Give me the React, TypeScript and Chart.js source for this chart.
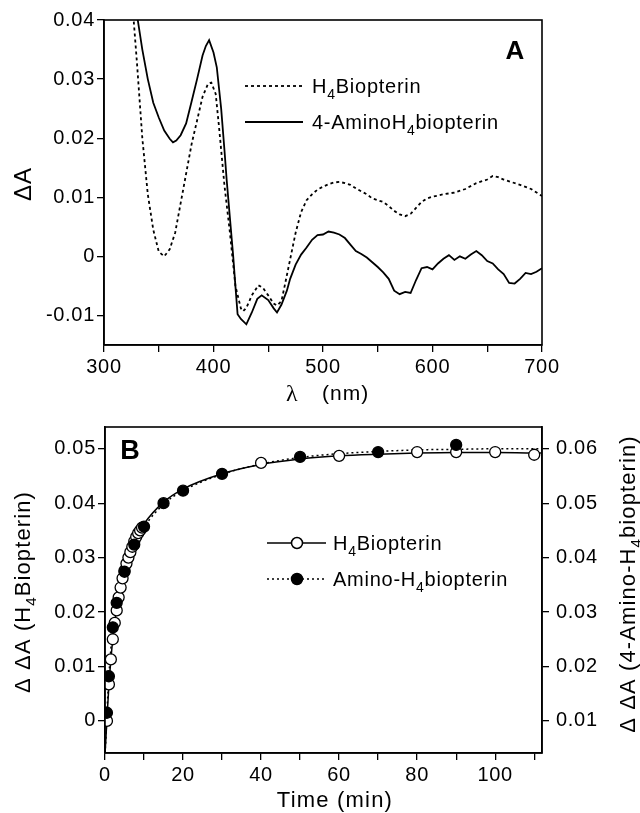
import React, { useEffect, useRef } from "react";
import { Chart, registerables } from "chart.js";

Chart.register(...registerables);

const FONT = '"Liberation Sans", Arial, Helvetica, sans-serif';
const SERIF = '"Liberation Serif", "DejaVu Serif", serif';

// ---------------- Panel A : difference spectra ----------------
const lambdaH4 = [
  320, 325, 330, 335, 340, 345, 350, 355, 360, 365, 370, 375, 380, 385, 390, 395, 398, 402, 405, 410,
  415, 420, 425, 427, 430, 435, 441, 445, 450, 455, 458, 462, 465, 470, 475, 480, 485, 490, 495, 500,
  505, 510, 515, 520, 525, 530, 535, 540, 545, 550, 555, 560, 565, 570, 575, 580, 585, 590, 595, 600,
  610, 620, 630, 640, 650, 655, 660, 665, 670, 680, 690, 700,
];
const deltaAH4 = [
  0.06, 0.045, 0.033, 0.02, 0.0105, 0.0045, 0.0008, 0.0, 0.0012, 0.004, 0.009, 0.014, 0.019, 0.023, 0.027, 0.0292, 0.0294, 0.0275, 0.022, 0.012,
  0.004, -0.005, -0.0088, -0.0093, -0.0087, -0.0066, -0.0049, -0.0053, -0.0066, -0.008, -0.0083, -0.0076, -0.005, -0.0005, 0.004, 0.0075, 0.0095, 0.0105, 0.0113, 0.0118,
  0.0122, 0.0125, 0.0126, 0.0124, 0.0121, 0.0115, 0.011, 0.0105, 0.0098, 0.0095, 0.0092, 0.0085, 0.0077, 0.0071, 0.0068, 0.0072, 0.0082, 0.0092, 0.0098, 0.0101,
  0.0105, 0.0108, 0.0114, 0.0124, 0.013, 0.0136, 0.0134, 0.013, 0.0127, 0.0121, 0.0114, 0.0102,
];

const lambdaAmino = [
  320, 325, 330, 335, 340, 345, 350, 355, 360, 363, 366, 370, 375, 380, 385, 390, 393, 396, 400, 403,
  407, 410, 412, 415, 418, 420, 422, 425, 430, 435, 440, 444, 450, 455, 458, 462, 467, 470, 475, 480,
  485, 490, 495, 500, 505, 510, 515, 520, 525, 530, 535, 540, 545, 550, 555, 560, 565, 570, 575, 580,
  585, 590, 595, 600, 605, 610, 615, 620, 625, 630, 635, 640, 645, 650, 655, 660, 665, 670, 675, 680,
  685, 690, 695, 700,
];
const deltaAAmino = [
  0.06, 0.05, 0.041, 0.035, 0.03, 0.026, 0.0235, 0.0213, 0.0199, 0.0193, 0.0196, 0.0205, 0.0225, 0.0262, 0.03, 0.034, 0.0356, 0.0366, 0.0345, 0.032,
  0.025, 0.018, 0.013, 0.0065, 0.0, -0.005, -0.0098, -0.0106, -0.0115, -0.0095, -0.0072, -0.0066, -0.0074, -0.0088, -0.0095, -0.0082, -0.0058, -0.0038, -0.0014, 0.0003,
  0.0015, 0.0028, 0.0036, 0.0037, 0.0042, 0.004, 0.0037, 0.0031, 0.002, 0.0009, 0.0004, -0.0002, -0.001, -0.0018, -0.0027, -0.0038, -0.0058, -0.0064, -0.006, -0.0062,
  -0.004, -0.002, -0.0018, -0.0022, -0.0012, -0.0004, 0.0002, -0.0006, 0.0, -0.0004, 0.0003, 0.0009, 0.0002, -0.0008, -0.0012, -0.0022, -0.003, -0.0045, -0.0046, -0.0038,
  -0.0028, -0.003, -0.0026, -0.002,
];

const xTicksA = [300, 350, 400, 450, 500, 550, 600, 650, 700];
const xTickLabelsA = ["300", "", "400", "", "500", "", "600", "", "700"];
const yTicksA = [-0.01, 0, 0.01, 0.02, 0.03, 0.04];
const yTickLabelsA = ["-0.01", "0", "0.01", "0.02", "0.03", "0.04"];

// ---------------- Panel B : time course ----------------
const timeH4 = [0.5, 1, 1.5, 2, 2.5, 3, 3.5, 4, 4.5, 5, 5.5, 6, 6.5, 7, 7.5, 8, 8.5, 9, 9.5, 40, 60, 80, 90, 100, 110];
const ddaH4 = [
  0.0, 0.0067, 0.0113, 0.015, 0.018, 0.0203, 0.0227, 0.0245, 0.0262, 0.0276, 0.0289, 0.03, 0.031, 0.032, 0.033, 0.0338, 0.0345, 0.035, 0.0355,
  0.0474, 0.0487, 0.0494, 0.0494, 0.0494, 0.0489,
];
const timeAmino = [0.5, 1, 2, 3, 5, 7.5, 10, 15, 20, 30, 50, 70, 90];
const ddaAmino = [0.0115, 0.0182, 0.0272, 0.0317, 0.0374, 0.0424, 0.0457, 0.05, 0.0523, 0.0554, 0.0585, 0.0594, 0.0607];

const fitTimeH4 = [0, 0.25, 0.5, 1, 1.5, 2, 2.5, 3, 4, 5, 6, 7, 8, 10, 15, 20, 30, 40, 50, 60, 70, 80, 90, 100, 112];
const fitH4 = [
  -0.006, -0.003, 0.0005, 0.0065, 0.0112, 0.015, 0.018, 0.0205, 0.0245, 0.0276, 0.03, 0.032, 0.0337, 0.0362, 0.0402, 0.0426, 0.0454, 0.0471, 0.0481,
  0.0487, 0.049, 0.0492, 0.0493, 0.0493, 0.0492,
];
const fitTimeAmino = [0, 0.25, 0.5, 1, 1.5, 2, 3, 4, 5, 6, 8, 10, 15, 20, 30, 40, 50, 60, 70, 80, 90, 100, 112];
const fitAmino = [
  0.004, 0.007, 0.0115, 0.0182, 0.0232, 0.0268, 0.0318, 0.035, 0.0376, 0.0397, 0.043, 0.0456, 0.0498, 0.0523, 0.0553, 0.0572, 0.0584, 0.0591,
  0.0595, 0.0598, 0.0599, 0.06, 0.06,
];

const xTicksB = [0, 10, 20, 30, 40, 50, 60, 70, 80, 90, 100, 110];
const xTickLabelsB = ["0", "", "20", "", "40", "", "60", "", "80", "", "100", ""];
const yTicksBLeft = [0, 0.01, 0.02, 0.03, 0.04, 0.05];
const yTickLabelsBLeft = ["0", "0.01", "0.02", "0.03", "0.04", "0.05"];
const yTicksBRight = [0.01, 0.02, 0.03, 0.04, 0.05, 0.06];
const yTickLabelsBRight = ["0.01", "0.02", "0.03", "0.04", "0.05", "0.06"];

// ---------------- helpers ----------------
type Seg = { t: string; sub?: boolean };

function drawRich(
  ctx: CanvasRenderingContext2D,
  segs: Seg[],
  x: number,
  y: number,
  size: number,
  align: "left" | "center" = "left",
  spacing = 0.8,
  weight = "normal"
) {
  const subSize = Math.round(size * 0.7);
  (ctx as any).letterSpacing = `${spacing}px`;
  const fontOf = (s: Seg) => `${weight} ${s.sub ? subSize : size}px ${s.t === "λ" ? SERIF : FONT}`;
  let total = 0;
  for (const s of segs) {
    ctx.font = fontOf(s);
    total += ctx.measureText(s.t).width;
  }
  let cx = align === "center" ? x - total / 2 : x;
  ctx.textAlign = "left";
  ctx.textBaseline = "alphabetic";
  ctx.fillStyle = "#000";
  for (const s of segs) {
    ctx.font = fontOf(s);
    ctx.fillText(s.t, cx, s.sub ? y + size * 0.28 : y);
    cx += ctx.measureText(s.t).width;
  }
}

function drawRotated(ctx: CanvasRenderingContext2D, segs: Seg[], cx: number, cy: number, size: number, spacing = 0.8) {
  ctx.save();
  ctx.translate(cx, cy);
  ctx.rotate(-Math.PI / 2);
  drawRich(ctx, segs, 0, size * 0.36, size, "center", spacing);
  ctx.restore();
}

function tickLabel(values: number[], labels: string[]) {
  return (v: any) => {
    const i = values.findIndex((t) => Math.abs(t - Number(v)) < 1e-9);
    return i >= 0 ? labels[i] : "";
  };
}

function setTicks(values: number[]) {
  return (scale: any) => {
    scale.ticks = values.map((value) => ({ value }));
  };
}

const gridOpts = {
  display: true,
  drawOnChartArea: false,
  drawTicks: true,
  tickLength: 7,
  color: "#000",
  lineWidth: 1.3,
};
const borderOpts = { display: true, color: "#000", width: 1.6 };
const tickFont = { family: FONT, size: 20 };

function frame(chart: any) {
  const { ctx, chartArea: a } = chart;
  ctx.save();
  ctx.strokeStyle = "#000";
  ctx.lineWidth = 1.6;
  ctx.strokeRect(a.left, a.top, a.right - a.left, a.bottom - a.top);
  ctx.restore();
}

const spacingPlugin = {
  id: "spacing",
  beforeLayout(chart: any) {
    chart.ctx.letterSpacing = "0.7px";
  },
  beforeDraw(chart: any) {
    chart.ctx.letterSpacing = "0.7px";
  },
};

const panelAPlugin = {
  id: "panelA",
  afterDraw(chart: any) {
    const ctx: CanvasRenderingContext2D = chart.ctx;
    frame(chart);
    ctx.save();
    // panel letter
    (ctx as any).letterSpacing = "0px";
    ctx.fillStyle = "#000";
    ctx.font = `bold 26px ${FONT}`;
    ctx.textAlign = "center";
    ctx.textBaseline = "middle";
    ctx.fillText("A", 515, 52);
    // legend
    ctx.strokeStyle = "#000";
    ctx.lineWidth = 1.8;
    ctx.setLineDash([3, 3]);
    ctx.beginPath();
    ctx.moveTo(245, 86);
    ctx.lineTo(303, 86);
    ctx.stroke();
    ctx.setLineDash([]);
    ctx.beginPath();
    ctx.moveTo(245, 122);
    ctx.lineTo(303, 122);
    ctx.stroke();
    drawRich(ctx, [{ t: "H" }, { t: "4", sub: true }, { t: "Biopterin" }], 312, 93, 20, "left", 0.75);
    drawRich(ctx, [{ t: "4-AminoH" }, { t: "4", sub: true }, { t: "biopterin" }], 312, 129, 20, "left", 0.75);
    // axis titles
    drawRotated(ctx, [{ t: "ΔA" }], 22, 184, 24, 1);
    drawRich(ctx, [{ t: "λ" }], 286, 401, 24, "left", 0);
    drawRich(ctx, [{ t: "(nm)" }], 322, 400, 21, "left", 1);
    ctx.restore();
  },
};

const panelBPlugin = {
  id: "panelB",
  afterDraw(chart: any) {
    const ctx: CanvasRenderingContext2D = chart.ctx;
    frame(chart);
    ctx.save();
    (ctx as any).letterSpacing = "0px";
    ctx.fillStyle = "#000";
    ctx.font = `bold 27px ${FONT}`;
    ctx.textAlign = "center";
    ctx.textBaseline = "middle";
    ctx.fillText("B", 130, 47);
    // legend
    const rows = [
      { y: 138, dash: [] as number[], fill: "#fff", segs: [{ t: "H" }, { t: "4", sub: true }, { t: "Biopterin" }] },
      { y: 174, dash: [2, 3], fill: "#000", segs: [{ t: "Amino-H" }, { t: "4", sub: true }, { t: "biopterin" }] },
    ];
    for (const r of rows) {
      ctx.strokeStyle = "#000";
      ctx.lineWidth = 1.5;
      ctx.setLineDash(r.dash);
      ctx.beginPath();
      ctx.moveTo(267, r.y);
      ctx.lineTo(326, r.y);
      ctx.stroke();
      ctx.setLineDash([]);
      ctx.beginPath();
      ctx.arc(297, r.y, 5.5, 0, Math.PI * 2);
      ctx.fillStyle = r.fill;
      ctx.fill();
      ctx.lineWidth = 1.5;
      ctx.stroke();
      drawRich(ctx, r.segs, 333, r.y + 7, 20, "left", 0.75);
    }
    // axis titles
    drawRotated(ctx, [{ t: "Δ ΔA (H" }, { t: "4", sub: true }, { t: "Biopterin)" }], 22, 187, 22, 1.1);
    drawRotated(ctx, [{ t: "Δ ΔA (4-Amino-H" }, { t: "4", sub: true }, { t: "biopterin)" }], 627, 179, 22, 1.1);
    drawRich(ctx, [{ t: "Time (min)" }], 335, 402, 22, "center", 1.2);
    ctx.restore();
  },
};

function PanelA() {
  const ref = useRef<HTMLCanvasElement>(null);
  useEffect(() => {
    const chart = new Chart(ref.current as HTMLCanvasElement, {
      type: "scatter",
      data: {
        datasets: [
          {
            label: "H4Biopterin",
            data: lambdaH4.map((x, i) => ({ x, y: deltaAH4[i] })),
            showLine: true,
            borderColor: "#000",
            borderWidth: 1.8,
            borderDash: [3, 3],
            pointRadius: 0,
          },
          {
            label: "4-AminoH4biopterin",
            data: lambdaAmino.map((x, i) => ({ x, y: deltaAAmino[i] })),
            showLine: true,
            borderColor: "#000",
            borderWidth: 1.8,
            pointRadius: 0,
          },
        ],
      },
      options: {
        animation: false,
        responsive: false,
        events: [],
        layout: { padding: { left: 0, right: 98, top: 20, bottom: 0 } },
        plugins: { legend: { display: false }, tooltip: { enabled: false } },
        scales: {
          x: {
            type: "linear",
            min: 300,
            max: 700,
            grid: gridOpts,
            border: borderOpts,
            afterBuildTicks: setTicks(xTicksA),
            afterFit: (s: any) => {
              s.height = 60;
            },
            ticks: {
              font: tickFont,
              color: "#000",
              padding: 3,
              maxRotation: 0,
              autoSkip: false,
              callback: tickLabel(xTicksA, xTickLabelsA),
            },
          },
          y: {
            type: "linear",
            min: -0.015,
            max: 0.04,
            grid: gridOpts,
            border: borderOpts,
            afterBuildTicks: setTicks(yTicksA),
            afterFit: (s: any) => {
              s.width = 104;
            },
            ticks: {
              font: tickFont,
              color: "#000",
              padding: 2,
              autoSkip: false,
              callback: tickLabel(yTicksA, yTickLabelsA),
            },
          },
        },
      } as any,
      plugins: [spacingPlugin, panelAPlugin],
    });
    return () => chart.destroy();
  }, []);
  return <canvas ref={ref} width={640} height={405} style={{ display: "block" }} />;
}

function PanelB() {
  const ref = useRef<HTMLCanvasElement>(null);
  useEffect(() => {
    const chart = new Chart(ref.current as HTMLCanvasElement, {
      type: "scatter",
      data: {
        datasets: [
          {
            label: "Amino-H4biopterin",
            data: timeAmino.map((x, i) => ({ x, y: ddaAmino[i] })),
            yAxisID: "y1",
            pointRadius: 5.5,
            pointBackgroundColor: "#000",
            pointBorderColor: "#000",
            pointBorderWidth: 1.3,
          },
          {
            label: "H4Biopterin",
            data: timeH4.map((x, i) => ({ x, y: ddaH4[i] })),
            yAxisID: "y",
            pointRadius: 5.5,
            pointBackgroundColor: "#fff",
            pointBorderColor: "#000",
            pointBorderWidth: 1.3,
          },
          {
            label: "fit H4",
            data: fitTimeH4.map((x, i) => ({ x, y: fitH4[i] })),
            yAxisID: "y",
            showLine: true,
            borderColor: "#000",
            borderWidth: 1.5,
            pointRadius: 0,
            cubicInterpolationMode: "monotone",
          },
          {
            label: "fit Amino",
            data: fitTimeAmino.map((x, i) => ({ x, y: fitAmino[i] })),
            yAxisID: "y1",
            showLine: true,
            borderColor: "#000",
            borderWidth: 1.5,
            borderDash: [2, 3],
            pointRadius: 0,
            cubicInterpolationMode: "monotone",
          },
        ],
      },
      options: {
        animation: false,
        responsive: false,
        events: [],
        layout: { padding: { left: 0, right: 0, top: 22, bottom: 0 } },
        plugins: { legend: { display: false }, tooltip: { enabled: false } },
        scales: {
          x: {
            type: "linear",
            min: 0,
            max: 112,
            grid: gridOpts,
            border: borderOpts,
            afterBuildTicks: setTicks(xTicksB),
            afterFit: (s: any) => {
              s.height = 60;
            },
            ticks: {
              font: tickFont,
              color: "#000",
              padding: 3,
              maxRotation: 0,
              autoSkip: false,
              callback: tickLabel(xTicksB, xTickLabelsB),
            },
          },
          y: {
            type: "linear",
            position: "left",
            min: -0.0059,
            max: 0.054,
            grid: gridOpts,
            border: borderOpts,
            afterBuildTicks: setTicks(yTicksBLeft),
            afterFit: (s: any) => {
              s.width = 105;
            },
            ticks: {
              font: tickFont,
              color: "#000",
              padding: 2,
              autoSkip: false,
              callback: tickLabel(yTicksBLeft, yTickLabelsBLeft),
            },
          },
          y1: {
            type: "linear",
            position: "right",
            min: 0.0041,
            max: 0.064,
            grid: gridOpts,
            border: borderOpts,
            afterBuildTicks: setTicks(yTicksBRight),
            afterFit: (s: any) => {
              s.width = 98;
            },
            ticks: {
              font: tickFont,
              color: "#000",
              padding: 7,
              autoSkip: false,
              callback: tickLabel(yTicksBRight, yTickLabelsBRight),
            },
          },
        },
      } as any,
      plugins: [spacingPlugin, panelBPlugin],
    });
    return () => chart.destroy();
  }, []);
  return <canvas ref={ref} width={640} height={408} style={{ display: "block" }} />;
}

export default function App() {
  return (
    <div style={{ position: "absolute", left: 0, top: 0, width: 640, height: 813, background: "#fff" }}>
      <div style={{ position: "absolute", left: 0, top: 0 }}>
        <PanelA />
      </div>
      <div style={{ position: "absolute", left: 0, top: 405 }}>
        <PanelB />
      </div>
    </div>
  );
}
